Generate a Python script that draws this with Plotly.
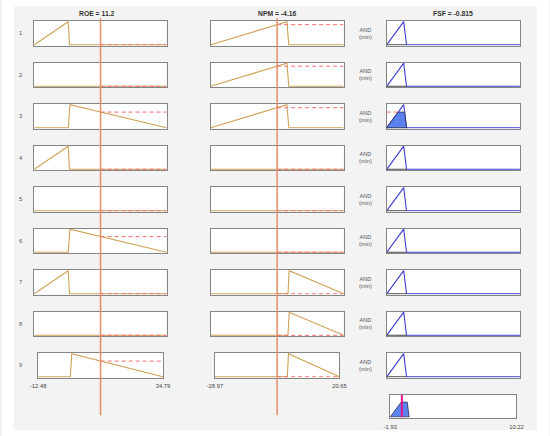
import plotly.graph_objects as go

W, H = 550, 436

# ---------------- data ----------------
rule_ids = [1, 2, 3, 4, 5, 6, 7, 8, 9]
roe_value = 11.2
npm_value = -4.16
fsf_value = -0.815
roe_range = [-12.48, 34.79]
npm_range = [-28.97, 20.65]
fsf_range = [-1.93, 10.22]

# triangular membership functions: [left foot, peak, right foot]
roe_low = [-12.48, -0.35, 0.1]
roe_high = [-0.3, 0.25, 34.79]
npm_low = [-28.97, -0.5, 0.2]
npm_high = [-0.1, 0.35, 20.65]
fsf_mf = [-1.93, -0.38, -0.12]

roe_rule_mf = ["low", "none", "high", "low", "none", "high", "low", "none", "high"]
npm_rule_mf = ["low", "low", "low", "none", "none", "none", "high", "high", "high"]

roe_degree = [0, 0, 0.68, 0, 0, 0.68, 0, 0, 0.68]
npm_degree = [0.87, 0.87, 0.87, 0, 0, 0, 0, 0, 0]
rule_strength = [0, 0, 0.68, 0, 0, 0, 0, 0, 0]

# ---------------- styles ----------------
GOLD = "#CFA154"
RED = "#F46F6F"
BLUE = "#3C3CD2"
FILL = "#5B82EE"
INPUT_LINE = "#E58E68"
MAGENTA = "#E0148C"
BORDER = "#858585"
FONT = "Liberation Sans, Arial, sans-serif"

ROW_TOP0, ROW_STEP, ROW_H = 21.0, 41.5, 24.5
COL_X = [(27, 163), (208.3, 345), (389.3, 526.3)]
COL_X_LAST = [(31, 159.3), (212.7, 340.7), (389.3, 526.3)]
AGG_BOX = (393, 522.7, 394.5, 417.5)
YR = [-0.03, 1.03]


def pxx(p):
    return p / W


def pxy(p):
    return 1 - p / H


def tri_path(lo, hi, mf):
    a, b, c = mf
    return [lo, a, b, c, hi], [0, 0, 1, 0, 0]


mf_lookup = {
    0: {"low": roe_low, "high": roe_high},
    1: {"low": npm_low, "high": npm_high},
}

fig = go.Figure()
layout = {}


def ax_names(k):
    if k == 1:
        return "x", "y", "xaxis", "yaxis"
    return f"x{k}", f"y{k}", f"xaxis{k}", f"yaxis{k}"


def add_axes(k, xdom, ydom, rng, ticks=None, standoff=2):
    xn, yn, xk, yk = ax_names(k)
    xa = dict(domain=xdom, range=rng, showgrid=False, zeroline=False,
              showline=True, mirror=True, linecolor=BORDER, linewidth=1.3,
              ticks="", showticklabels=False, fixedrange=True,
              layer="below traces", anchor=yn)
    if ticks is not None:
        xa.update(showticklabels=True, tickmode="array", tickvals=ticks,
                  ticktext=[f"{t:g}" for t in ticks],
                  tickfont=dict(family=FONT, size=5.8, color="#444"),
                  ticklabelstandoff=standoff)
    ya = dict(domain=ydom, range=YR, showgrid=False, zeroline=False,
              showline=True, mirror=True, linecolor=BORDER, linewidth=1.3,
              ticks="", showticklabels=False, fixedrange=True,
              layer="below traces", anchor=xn)
    layout[xk] = xa
    layout[yk] = ya
    return xn, yn


def line(xn, yn, xs, ys, color, width=1.1, dash=None):
    fig.add_trace(go.Scatter(x=xs, y=ys, xaxis=xn, yaxis=yn, mode="lines",
                             line=dict(color=color, width=width, dash=dash),
                             hoverinfo="skip", showlegend=False))


def label(xp, yp, text, size, color="#555"):
    annotations.append(dict(x=pxx(xp), y=pxy(yp), xref="paper", yref="paper",
                            xanchor="center", yanchor="middle",
                            text=text, showarrow=False,
                            font=dict(family=FONT, size=size, color=color)))


inputs = [(roe_value, roe_range, roe_rule_mf, roe_degree),
          (npm_value, npm_range, npm_rule_mf, npm_degree)]

annotations = []

for r in range(9):
    top = ROW_TOP0 + ROW_STEP * r
    bot = top + ROW_H
    ydom = [pxy(bot), pxy(top)]
    last = (r == 8)
    cols = COL_X_LAST if last else COL_X
    # inputs
    for c in range(2):
        val, rng, mfs, deg = inputs[c]
        k = r * 3 + c + 1
        x0, x1 = cols[c]
        xn, yn = add_axes(k, [pxx(x0), pxx(x1)], ydom, rng,
                          ticks=rng if last else None)
        name = mfs[r]
        if name == "none":
            xs, ys = [rng[0], rng[1]], [0, 0]
        else:
            xs, ys = tri_path(rng[0], rng[1], mf_lookup[c][name])
        line(xn, yn, xs, ys, GOLD)
        line(xn, yn, [val, rng[1]], [deg[r], deg[r]], RED, 1.0, "4px,3px")
    # output
    k = r * 3 + 3
    x0, x1 = cols[2]
    xn, yn = add_axes(k, [pxx(x0), pxx(x1)], ydom, fsf_range)
    xs, ys = tri_path(fsf_range[0], fsf_range[1], fsf_mf)
    line(xn, yn, xs, ys, BLUE)
    line(xn, yn, [fsf_mf[0], fsf_mf[2]], [0, 0], "#444", 1.1)
    s = rule_strength[r]
    if s > 0:
        a, b, cc = fsf_mf
        px_ = [a, a + s * (b - a), cc - s * (cc - b), cc, a]
        py_ = [0, s, s, 0, 0]
        line(xn, yn, [fsf_range[0], a + s * (b - a)], [s, s], RED, 1.0, "4px,3px")
        fig.add_trace(go.Scatter(x=px_, y=py_, xaxis=xn, yaxis=yn, mode="lines",
                                 fill="toself", fillcolor=FILL,
                                 line=dict(color="#2B2B55", width=0.8),
                                 hoverinfo="skip", showlegend=False))
    # labels
    yc = (top + bot) / 2
    label(13, yc, str(rule_ids[r]), 5.8)
    label(367.7, yc, "AND<br>(min)", 5.6)

# aggregated output
k = 28
ax0, ax1, ay0, ay1 = AGG_BOX
xn, yn = add_axes(k, [pxx(ax0), pxx(ax1)], [pxy(ay1), pxy(ay0)], fsf_range,
                  ticks=fsf_range, standoff=3)
s = max(rule_strength)
a, b, cc = fsf_mf
fig.add_trace(go.Scatter(x=[a, a + s * (b - a), cc - s * (cc - b), cc, a],
                         y=[0, s, s, 0, 0], xaxis=xn, yaxis=yn, mode="lines",
                         fill="toself", fillcolor=FILL,
                         line=dict(color="#2B2B55", width=0.8),
                         hoverinfo="skip", showlegend=False))
line(xn, yn, [fsf_value, fsf_value], YR, MAGENTA, 2.0)

# titles
titles = [(f"ROE = {roe_value:g}", 92), (f"NPM = {npm_value:g}", 276.7),
          (f"FSF = {fsf_value:g}", 457.8)]
for t, xp in titles:
    label(xp, 13.7, f"<b>{t}</b>", 6.8, "#333")

# input value lines across all rule rows
shapes = [
    dict(type="rect", xref="paper", yref="paper", x0=0, x1=1, y0=0, y1=1,
         line=dict(color="white", width=12), fillcolor="rgba(0,0,0,0)",
         layer="below"),
]
for xr, val in (("x", roe_value), ("x2", npm_value)):
    shapes.append(dict(type="line", xref=xr, yref="paper", x0=val, x1=val,
                       y0=pxy(415.3), y1=pxy(18.3),
                       line=dict(color=INPUT_LINE, width=1.5), layer="above"))

fig.update_layout(
    width=W, height=H,
    margin=dict(l=0, r=0, t=0, b=0),
    paper_bgcolor="#F3F3F3",
    plot_bgcolor="white",
    showlegend=False,
    annotations=annotations,
    shapes=shapes,
    **layout,
)

fig.write_html(
    "out.html", config={"displayModeBar": False},
    post_script=(
        "document.documentElement.style.margin='0';"
        "document.documentElement.style.padding='0';"
        "document.body.style.margin='0';"
        "document.body.style.padding='0';"
        "document.body.style.overflow='hidden';"
        "var d=document.getElementById('{plot_id}');"
        "d.style.position='absolute';d.style.left='0px';d.style.top='0px';"
    ),
)
